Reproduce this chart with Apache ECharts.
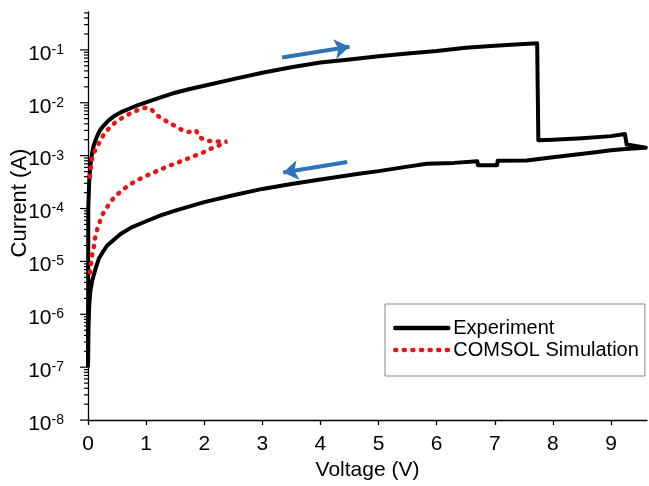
<!DOCTYPE html>
<html><head><meta charset="utf-8">
<script src="https://cdn.jsdelivr.net/npm/echarts@6/dist/echarts.min.js"></script>
<style>html,body{margin:0;padding:0;background:#fff}#c{width:649px;height:486px}</style>
</head><body><div id="c"></div>
<script>
// ---------- data (Voltage in V, Current in A) ----------
const expForwardV = [0, 0.005, 0.02, 0.04, 0.07, 0.1, 0.15, 0.2, 0.27, 0.35, 0.45, 0.6, 0.8, 1.0, 1.25, 1.5, 1.75, 2.0, 2.5, 3.0, 3.5, 4.0, 4.5, 5.0, 5.5, 6.0, 6.5, 7.0, 7.5, 7.73,
  7.75, 8.0, 8.5, 9.0, 9.24, 9.26, 9.27, 9.45, 9.6];
const expForwardI = [1e-7, 1e-4, 3.2e-4, 6.3e-4, 1.12e-3, 1.58e-3, 2.24e-3, 2.95e-3, 3.7e-3, 4.6e-3, 5.6e-3, 6.9e-3, 8.5e-3, 1.02e-2, 1.26e-2, 1.55e-2, 1.82e-2, 2.1e-2, 2.8e-2, 3.7e-2, 4.7e-2, 5.75e-2, 6.6e-2, 7.6e-2, 8.5e-2, 9.5e-2, 0.11, 0.12, 0.129, 0.133,
  1.95e-3, 2.0e-3, 2.14e-3, 2.34e-3, 2.57e-3, 2.8e-3, 1.62e-3, 1.51e-3, 1.41e-3];
const expReverseV = [9.6, 9.3, 9.0, 8.7, 8.0, 7.55, 7.05, 7.04, 6.71, 6.70, 6.3, 5.83, 5.5, 5.0, 4.69, 4.0, 3.5, 3.0, 2.5, 2.0, 1.5, 1.25, 1.0, 0.75, 0.56, 0.45, 0.33, 0.25, 0.19, 0.14, 0.1, 0.07, 0.04, 0.02, 0.01, 0.005, 0];
const expReverseI = [1.41e-3, 1.35e-3, 1.26e-3, 1.15e-3, 9.3e-4, 8.1e-4, 8.0e-4, 6.6e-4, 6.6e-4, 7.8e-4, 7.3e-4, 7.0e-4, 6.2e-4, 5.1e-4, 4.6e-4, 3.55e-4, 2.9e-4, 2.35e-4, 1.78e-4, 1.32e-4, 9.1e-5, 7.4e-5, 5.75e-5, 4.4e-5, 3.3e-5, 2.6e-5, 2.0e-5, 1.48e-5, 1.15e-5, 7.9e-6, 5.6e-6, 4.2e-6, 2.75e-6, 1.4e-6, 6.3e-7, 2.5e-7, 1e-7];

const simV = [0.03, 0.06, 0.1, 0.16, 0.27, 0.39, 0.5, 0.64, 0.79, 0.93, 1.02, 1.07, 1.19, 1.33, 1.45, 1.59, 1.73, 1.86, 1.92, 2.08, 2.23, 2.39,
  2.25, 2.11, 1.96, 1.82, 1.66, 1.52, 1.37, 1.24, 1.09, 0.95, 0.82, 0.69, 0.56, 0.44, 0.36, 0.27, 0.21, 0.16, 0.12, 0.10, 0.07, 0.05, 0.03];
const simI = [4.0e-4, 7.9e-4, 1.12e-3, 1.51e-3, 2.5e-3, 3.6e-3, 4.5e-3, 5.6e-3, 6.8e-3, 7.8e-3, 8.1e-3, 7.9e-3, 5.75e-3, 4.6e-3, 3.9e-3, 3.16e-3, 2.8e-3, 3.0e-3, 2.2e-3, 1.9e-3, 1.86e-3, 1.86e-3,
  1.55e-3, 1.35e-3, 1.12e-3, 9.8e-4, 8.3e-4, 7.2e-4, 6.3e-4, 5.4e-4, 4.6e-4, 3.9e-4, 3.3e-4, 2.7e-4, 2.1e-4, 1.58e-4, 1.2e-4, 8.5e-5, 5.9e-5, 4.1e-5, 2.75e-5, 1.86e-5, 1.32e-5, 8.7e-6, 5.6e-6];

// sweep-direction arrows: [startV, startI, endV, endI]
const arrowForward = [3.34, 0.072, 4.50, 0.115];
const arrowReverse = [4.46, 7.6e-4, 3.36, 4.8e-4];

const xTicks = [0, 1, 2, 3, 4, 5, 6, 7, 8, 9];
const yMajorTicks = [1e-8, 1e-7, 1e-6, 1e-5, 1e-4, 1e-3, 1e-2, 1e-1];
const yMinorTicks = [];
for (let e = -8; e <= -1; e++) for (let k = 2; k <= 9; k++) { const v = k * Math.pow(10, e); if (v < 0.52) yMinorTicks.push(v); }

const seriesNames = ['Experiment', 'COMSOL Simulation'];
// ------------------------------------------------------

const FONT = "'Liberation Sans', Arial, sans-serif";
const FS = 21;
const zip = (a, b) => a.map((v, i) => [v, b[i]]);
const expData = zip(expForwardV, expForwardI).concat(zip(expReverseV, expReverseI));
const simData = zip(simV, simI);
const tickData = yMajorTicks.map(v => [0, v, 8]).concat(yMinorTicks.map(v => [0, v, 4]));

const chart = echarts.init(document.getElementById('c'), null, {renderer: 'canvas'});
chart.setOption({
  animation: false,
  backgroundColor: '#fff',
  textStyle: {fontFamily: FONT, color: '#000'},
  grid: {left: 88, right: 2, top: 12, bottom: 58, containLabel: false},
  xAxis: {
    type: 'value', min: 0, max: 9.62,
    name: 'Voltage (V)', nameLocation: 'middle', nameGap: 33,
    nameTextStyle: {fontSize: FS, fontFamily: FONT, color: '#000'},
    axisLine: {lineStyle: {color: '#000', width: 1.3}},
    axisTick: {show: true, customValues: xTicks, length: 5, lineStyle: {color: '#000', width: 1.3}},
    axisLabel: {customValues: xTicks, fontSize: FS, color: '#000', margin: 14, fontFamily: FONT},
    splitLine: {show: false}
  },
  yAxis: {
    type: 'log', logBase: 10, min: 1e-8, max: 0.52,
    axisLine: {show: true, lineStyle: {color: '#000', width: 1.3}},
    axisTick: {show: false},
    axisLabel: {
      showMaxLabel: false, margin: 24, color: '#000', padding: [8, 0, 0, 0],
      formatter: v => '{b|10}{s|' + Math.round(Math.log10(v)) + '}',
      rich: {
        b: {fontSize: FS, fontFamily: FONT, color: '#000', lineHeight: 22},
        s: {fontSize: 14, fontFamily: FONT, color: '#000', verticalAlign: 'top', lineHeight: 14}
      }
    },
    splitLine: {show: false}
  },
  legend: {
    data: [
      {name: seriesNames[0]},
      {name: seriesNames[1], lineStyle: {type: [1, 7.6], cap: 'round', width: 4.5}}
    ],
    orient: 'vertical', left: 385, top: 304,
    padding: [13, 6, 15, 8], itemGap: 0, itemWidth: 53, itemHeight: 22, itemTextGap: 3,
    borderColor: '#888', borderWidth: 1, borderRadius: 0,
    itemStyle: {opacity: 0, borderWidth: 0},
    lineStyle: {width: 4.5, cap: 'round'},
    textStyle: {fontSize: 20, fontFamily: FONT, color: '#000', lineHeight: 22}
  },
  graphic: [{
    type: 'text', x: 20, y: 203, rotation: Math.PI / 2,
    style: {text: 'Current (A)', fontSize: 22, fontFamily: FONT, fill: '#000', align: 'center', verticalAlign: 'middle'}
  }],
  series: [
    {
      type: 'custom', name: 'ticks', coordinateSystem: 'cartesian2d', clip: false, silent: true, z: 5,
      data: tickData,
      renderItem: (params, api) => {
        const p = api.coord([api.value(0), api.value(1)]);
        const len = api.value(2);
        return {type: 'line', shape: {x1: p[0] - len, y1: p[1], x2: p[0], y2: p[1]}, style: {stroke: '#000', lineWidth: 1.2}};
      }
    },
    {
      name: seriesNames[1], type: 'line', data: simData, symbol: 'none', showSymbol: false,
      color: '#ee1111', z: 3,
      lineStyle: {color: '#ee1111', width: 4.5, type: [1, 7.6], cap: 'round'}
    },
    {
      name: seriesNames[0], type: 'line', data: expData, symbol: 'none', showSymbol: false,
      color: '#000', z: 2,
      lineStyle: {color: '#000', width: 4, join: 'round'},
      markLine: {
        silent: true, symbol: ['none', 'arrow'], symbolSize: 15,
        label: {show: false},
        lineStyle: {color: '#2e75b6', width: 4, type: 'solid'},
        data: [
          [{coord: [arrowForward[0], arrowForward[1]]}, {coord: [arrowForward[2], arrowForward[3]]}],
          [{coord: [arrowReverse[0], arrowReverse[1]]}, {coord: [arrowReverse[2], arrowReverse[3]]}]
        ]
      }
    }
  ]
});
</script>
</body></html>
